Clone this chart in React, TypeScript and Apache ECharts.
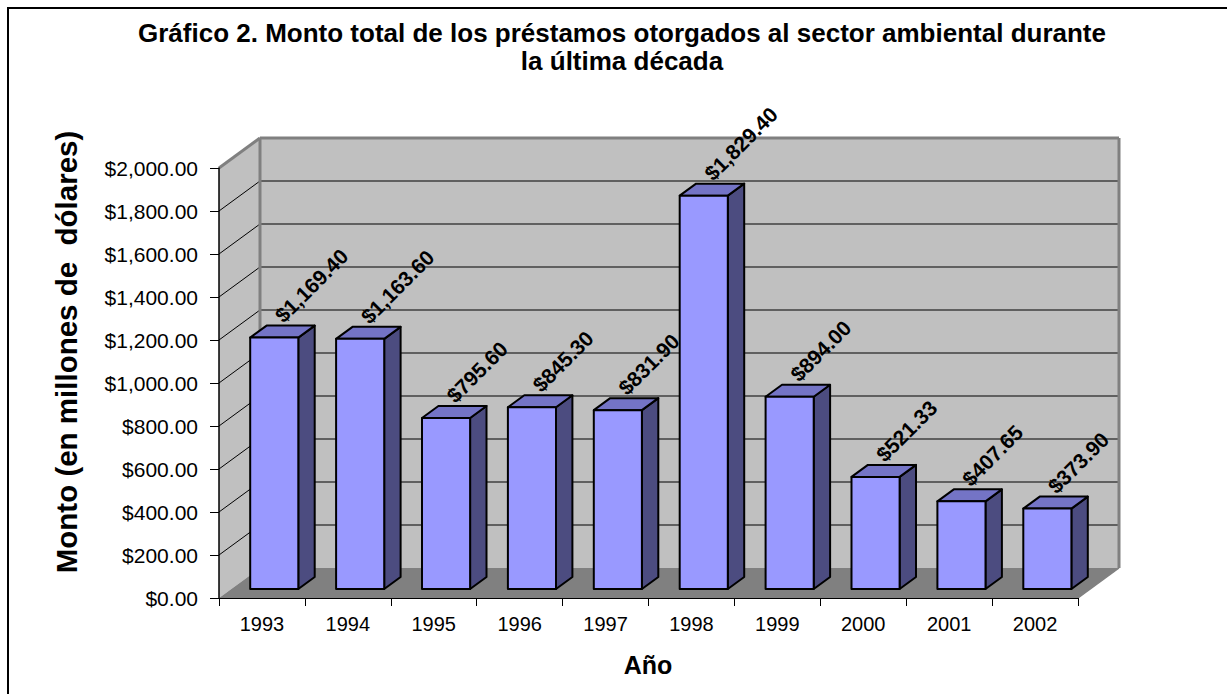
import React, { useEffect, useRef } from "react";
import * as echarts from "echarts";

const TITLE_LINES = [
  "Gráfico 2. Monto total de los préstamos otorgados al sector ambiental durante",
  "la última década",
];
const Y_NAME = "Monto (en millones de  dólares)";
const X_NAME = "Año";
const YEARS = ["1993", "1994", "1995", "1996", "1997", "1998", "1999", "2000", "2001", "2002"];
const AMOUNTS = [1169.4, 1163.6, 795.6, 845.3, 831.9, 1829.4, 894.0, 521.33, 407.65, 373.9];
const Y_MIN = 0;
const Y_MAX = 2000;
const Y_STEP = 200;

const FONT = '"Liberation Sans", Arial, sans-serif';
const DX = 41;
const DY = -30;

const fmt = (v: number) =>
  "$" + v.toLocaleString("en-US", { minimumFractionDigits: 2, maximumFractionDigits: 2 });

export default function App() {
  const ref = useRef<HTMLDivElement>(null);
  useEffect(() => {
    if (!ref.current) return;
    const chart = echarts.init(ref.current, null, { renderer: "svg" });

    const ticks: number[] = [];
    for (let t = Y_MIN; t <= Y_MAX; t += Y_STEP) ticks.push(t);

    const renderWalls = (params: any, api: any) => {
      const cs = params.coordSys;
      const xL = cs.x;
      const xR = cs.x + cs.width;
      const yTop = api.coord([0, Y_MAX])[1];
      const yBot = api.coord([0, Y_MIN])[1];
      const ch: any[] = [];
      ch.push({
        type: "polygon",
        shape: { points: [[xL + DX, yTop + DY], [xR + DX, yTop + DY], [xR + DX, yBot + DY], [xL + DX, yBot + DY]] },
        style: { fill: "#C0C0C0" },
      });
      ch.push({
        type: "polygon",
        shape: { points: [[xL, yTop], [xL + DX, yTop + DY], [xL + DX, yBot + DY], [xL, yBot]] },
        style: { fill: "#C0C0C0" },
      });
      ch.push({
        type: "polygon",
        shape: { points: [[xL, yBot], [xR, yBot], [xR + DX, yBot + DY], [xL + DX, yBot + DY]] },
        style: { fill: "#808080" },
      });
      ticks.forEach((t) => {
        if (t === Y_MIN || t === Y_MAX) return;
        const y = api.coord([0, t])[1];
        ch.push({
          type: "line",
          shape: { x1: xL, y1: y, x2: xL + DX, y2: y + DY },
          style: { stroke: "#000", lineWidth: 1 },
        });
        ch.push({
          type: "line",
          shape: { x1: xL + DX, y1: y + DY, x2: xR + DX, y2: y + DY },
          style: { stroke: "#000", lineWidth: 1 },
        });
      });
      const edge = { stroke: "#808080", lineWidth: 3 };
      ch.push({ type: "line", shape: { x1: xL, y1: yTop, x2: xL + DX, y2: yTop + DY }, style: edge });
      ch.push({ type: "line", shape: { x1: xL + DX, y1: yTop + DY, x2: xR + DX, y2: yTop + DY }, style: edge });
      ch.push({ type: "line", shape: { x1: xL + DX, y1: yTop + DY, x2: xL + DX, y2: yBot + DY }, style: edge });
      ch.push({ type: "line", shape: { x1: xR + DX, y1: yTop + DY, x2: xR + DX, y2: yBot + DY }, style: edge });
      ch.push({
        type: "line",
        shape: { x1: xR, y1: yBot, x2: xR + DX, y2: yBot + DY },
        style: { stroke: "#808080", lineWidth: 1.5 },
      });
      return { type: "group", children: ch };
    };

    const renderBar = (params: any, api: any) => {
      const i = api.value(0);
      const v = api.value(1);
      const cw = api.size([1, 0])[0];
      const base = api.coord([i, Y_MIN]);
      const top = api.coord([i, v]);
      const bw = cw * 0.56;
      const d0 = 0.3;
      const dd = 0.4;
      const cx = base[0] + DX * d0;
      const xL = cx - bw / 2;
      const xR = cx + bw / 2;
      const yB = base[1] + DY * d0;
      const yT = top[1] + DY * d0;
      const ox = DX * dd;
      const oy = DY * dd;
      const stroke = { stroke: "#000", lineWidth: 2, lineJoin: "round" };
      const tcx = (xL + xR + ox) / 2;
      const tcy = yT + oy / 2;
      return {
        type: "group",
        children: [
          {
            type: "polygon",
            shape: { points: [[xR, yT], [xR + ox, yT + oy], [xR + ox, yB + oy], [xR, yB]] },
            style: { fill: "#4C4C80", ...stroke },
          },
          {
            type: "polygon",
            shape: { points: [[xL, yT], [xR, yT], [xR + ox, yT + oy], [xL + ox, yT + oy]] },
            style: { fill: "#7474C6", ...stroke },
          },
          {
            type: "rect",
            shape: { x: xL, y: yT, width: bw, height: yB - yT },
            style: { fill: "#9999FF", ...stroke },
          },
          {
            type: "text",
            x: tcx - 4,
            y: tcy - 13,
            rotation: Math.PI / 4,
            style: {
              text: fmt(v),
              fontSize: 21,
              fontWeight: "bold",
              fontFamily: FONT,
              fill: "#000",
              align: "left",
              verticalAlign: "middle",
            },
          },
        ],
      };
    };

    chart.setOption({
      animation: false,
      backgroundColor: "#fff",
      textStyle: { fontFamily: FONT },
      grid: { left: 219, right: 149, top: 168, bottom: 96, containLabel: false },
      xAxis: {
        type: "category",
        data: YEARS,
        boundaryGap: true,
        z: 5,
        axisLine: { lineStyle: { color: "#000", width: 1 } },
        axisTick: { show: true, length: 8, lineStyle: { color: "#000" } },
        axisLabel: { color: "#000", fontSize: 20, margin: 16, fontFamily: FONT },
        splitLine: { show: false },
      },
      yAxis: {
        type: "value",
        min: Y_MIN,
        max: Y_MAX,
        interval: Y_STEP,
        z: 5,
        axisLine: { show: true, lineStyle: { color: "#000", width: 1.5 } },
        axisTick: { show: true, length: 9, lineStyle: { color: "#000" } },
        axisLabel: { color: "#000", fontSize: 21, margin: 21, fontFamily: FONT, formatter: (v: number) => fmt(v) },
        splitLine: { show: false },
      },
      graphic: [
        {
          type: "rect",
          shape: { x: 8, y: 8, width: 1400, height: 900 },
          style: { fill: "none", stroke: "#000", lineWidth: 2 },
          silent: true,
        },
        {
          type: "text",
          x: 622,
          y: 33,
          style: { text: TITLE_LINES[0], fontSize: 26, fontWeight: "bold", fontFamily: FONT, fill: "#000", align: "center", verticalAlign: "middle" },
        },
        {
          type: "text",
          x: 622,
          y: 61,
          style: { text: TITLE_LINES[1], fontSize: 26, fontWeight: "bold", fontFamily: FONT, fill: "#000", align: "center", verticalAlign: "middle" },
        },
        {
          type: "text",
          x: 66,
          y: 352,
          rotation: Math.PI / 2,
          style: { text: Y_NAME, fontSize: 29.5, fontWeight: "bold", fontFamily: FONT, fill: "#000", align: "center", verticalAlign: "middle" },
        },
        {
          type: "text",
          x: 648,
          y: 665,
          style: { text: X_NAME, fontSize: 25, fontWeight: "bold", fontFamily: FONT, fill: "#000", align: "center", verticalAlign: "middle" },
        },
      ],
      series: [
        {
          type: "custom",
          name: "walls",
          z: 1,
          clip: false,
          silent: true,
          renderItem: renderWalls,
          data: [[0, 0]],
          encode: { x: 0, y: 1 },
        },
        {
          type: "custom",
          name: "Monto",
          z: 3,
          clip: false,
          renderItem: renderBar,
          data: AMOUNTS.map((v, i) => [i, v]),
          encode: { x: 0, y: 1 },
        },
      ],
    });
    return () => chart.dispose();
  }, []);
  return (
    <div
      ref={ref}
      style={{ position: "fixed", left: 0, top: 0, width: 1227, height: 694 }}
    />
  );
}
